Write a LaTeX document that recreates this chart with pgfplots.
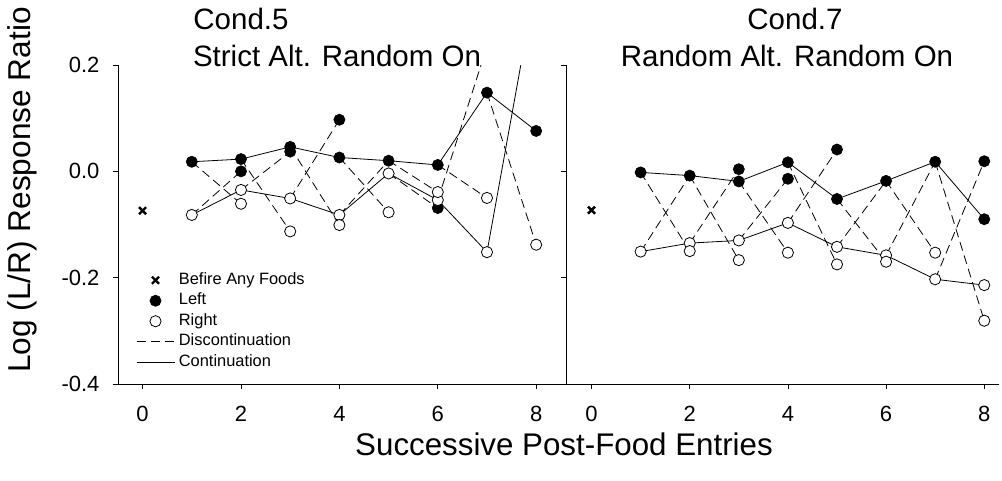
\documentclass[border=0pt]{standalone}
\usepackage{pgfplots}
\pgfplotsset{compat=1.18}
\usepackage{fontspec}
\setmainfont{Liberation Sans}
\pgfplotsset{
  mylegimg/.style={legend image code/.code={\draw[mark repeat=2,mark phase=2,##1] plot coordinates {(0pt,0pt) (19pt,0pt) (38pt,0pt)};}},
  panel/.style={
    scale only axis, height=319pt, ymin=-0.4, ymax=0.2,
    axis lines*=left, axis line style={black, line width=0.8pt},
    tick align=outside, major tick length=5pt,
    tick style={black, line width=0.8pt},
    xtick={0,2,4,6,8}, xticklabels={0,2,4,6,8},
    ytick={-0.4,-0.2,0,0.2},
    ticklabel style={font=\fontsize{22}{26}\selectfont},
    xticklabel style={yshift=-14pt},
    yticklabel style={xshift=-10pt},
    /pgf/number format/assume math mode=true,
    clip=true,
  },
  cline/.style={black, line width=0.8pt, no markers},
  dline/.style={black, line width=0.8pt, dash pattern=on 9pt off 5pt, no markers, unbounded coords=jump},
  fillm/.style={only marks, mark=*, mark size=5.6pt, mark options={fill=black, draw=black, line width=0.6pt, solid}},
  openm/.style={only marks, mark=*, mark size=5.6pt, mark options={fill=white, draw=black, line width=0.8pt, solid}},
  xm/.style={only marks, mark=x, mark size=5pt, mark options={draw=black, line width=2.4pt, solid}},
}
\begin{document}
\begin{tikzpicture}
\useasboundingbox (0pt,0pt) rectangle (1002pt,480pt);
% ---------------- left panel: Cond.5
\begin{axis}[panel, at={(118pt,96pt)}, anchor=south west, width=447.7pt,
  xmin=-0.5, xmax=8.6,
  yticklabels={-0.4,-0.2,0.0,0.2},
  legend style={draw=none, fill=none, inner sep=0pt, at={(rel axis cs:0.04,0.358)}, anchor=north west,
    font=\fontsize{16.4}{20}\selectfont, nodes={text height=12pt, text depth=4pt, inner ysep=2.25pt, inner xsep=4pt}},
  legend cell align=left]
\addlegendimage{xm, mylegimg}
\addlegendimage{fillm, mylegimg}
\addlegendimage{openm, mylegimg}
\addlegendimage{black, line width=0.8pt, dash pattern=on 9pt off 5pt, mylegimg}
\addlegendimage{black, line width=0.8pt, mylegimg}
% continuation lines
\addplot[cline] coordinates {(1,0.018) (2,0.023) (3,0.046) (4,0.026) (5,0.020) (6,0.012) (7,0.148) (8,0.076)};
\addplot[cline] coordinates {(1,-0.082) (2,-0.035) (3,-0.051) (4,-0.082) (5,-0.004) (6,-0.054) (7,-0.152) (8,0.36)};
% discontinuation segments
\addplot[dline] coordinates {(1,0.018) (2,-0.061) (2,nan) (2,0.023) (3,-0.113) (3,nan) (3,0.046) (4,-0.101) (4,nan)
  (4,0.026) (5,-0.077) (5,nan) (5,0.020) (6,-0.039) (6,nan) (6,0.012) (7,-0.050) (7,nan) (7,0.148) (8,-0.138)};
\addplot[dline] coordinates {(1,-0.082) (2,0.0) (2,nan) (2,-0.035) (3,0.037) (3,nan) (3,-0.051) (4,0.097) (4,nan)
  (4,-0.082) (5,0.020) (5,nan) (5,-0.004) (6,-0.069) (6,nan) (6,-0.054) (7,0.235)};
% markers
\addplot[xm] coordinates {(0,-0.074)};
\addplot[fillm] coordinates {(1,0.018) (2,0.023) (3,0.046) (4,0.026) (5,0.020) (6,0.012) (7,0.148) (8,0.076)
  (2,0.0) (3,0.037) (4,0.097) (6,-0.069)};
\addplot[openm] coordinates {(1,-0.082) (2,-0.035) (3,-0.051) (4,-0.082) (5,-0.004) (6,-0.054) (7,-0.152)
  (2,-0.061) (3,-0.113) (4,-0.101) (5,-0.077) (6,-0.039) (7,-0.050) (8,-0.138)};
\legend{Befire Any Foods, Left, Right, Discontinuation, Continuation}
\end{axis}
% ---------------- right panel: Cond.7
\begin{axis}[panel, at={(566pt,96pt)}, anchor=south west, width=433pt,
  xmin=-0.52, xmax=8.3, yticklabels={}]
\addplot[cline] coordinates {(1,-0.002) (2,-0.008) (3,-0.019) (4,0.017) (5,-0.052) (6,-0.018) (7,0.018) (8,-0.090)};
\addplot[cline] coordinates {(1,-0.151) (2,-0.135) (3,-0.130) (4,-0.097) (5,-0.142) (6,-0.158) (7,-0.203) (8,-0.214)};
\addplot[dline] coordinates {(1,-0.002) (2,-0.150) (2,nan) (2,-0.008) (3,-0.167) (3,nan) (3,-0.019) (4,-0.153) (4,nan)
  (4,0.017) (5,-0.175) (5,nan) (5,-0.052) (6,-0.170) (6,nan) (6,-0.018) (7,-0.153) (7,nan) (7,0.018) (8,-0.281)};
\addplot[dline] coordinates {(1,-0.151) (2,-0.008) (2,nan) (2,-0.135) (3,0.004) (3,nan) (3,-0.130) (4,-0.014) (4,nan)
  (4,-0.097) (5,0.041) (5,nan) (5,-0.142) (6,-0.018) (6,nan) (6,-0.158) (7,0.018) (7,nan) (7,-0.203) (8,0.019)};
\addplot[xm] coordinates {(0,-0.073)};
\addplot[fillm] coordinates {(1,-0.002) (2,-0.008) (3,-0.019) (4,0.017) (5,-0.052) (6,-0.018) (7,0.018) (8,-0.090)
  (3,0.004) (4,-0.014) (5,0.041) (8,0.019)};
\addplot[openm] coordinates {(1,-0.151) (2,-0.135) (3,-0.130) (4,-0.097) (5,-0.142) (6,-0.158) (7,-0.203) (8,-0.214)
  (2,-0.150) (3,-0.167) (4,-0.153) (5,-0.175) (6,-0.170) (7,-0.153) (8,-0.281)};
\end{axis}
% ---------------- titles and labels
\node[anchor=base, font=\fontsize{29.5}{34}\selectfont] at (241pt,450pt) {Cond.5};
\node[anchor=base, font=\fontsize{29.5}{34}\selectfont] at (337pt,413pt) {Strict Alt. Random On};
\node[anchor=base, font=\fontsize{29.5}{34}\selectfont] at (795pt,450pt) {Cond.7};
\node[anchor=base, font=\fontsize{29.5}{34}\selectfont] at (787pt,413pt) {Random Alt. Random On};
\node[anchor=base, font=\fontsize{31.3}{36}\selectfont] at (564pt,25pt) {Successive Post-Food Entries};
\node[rotate=90, font=\fontsize{31.6}{36}\selectfont] at (22pt,290pt) {Log (L/R) Response Ratio};
\end{tikzpicture}
\end{document}
